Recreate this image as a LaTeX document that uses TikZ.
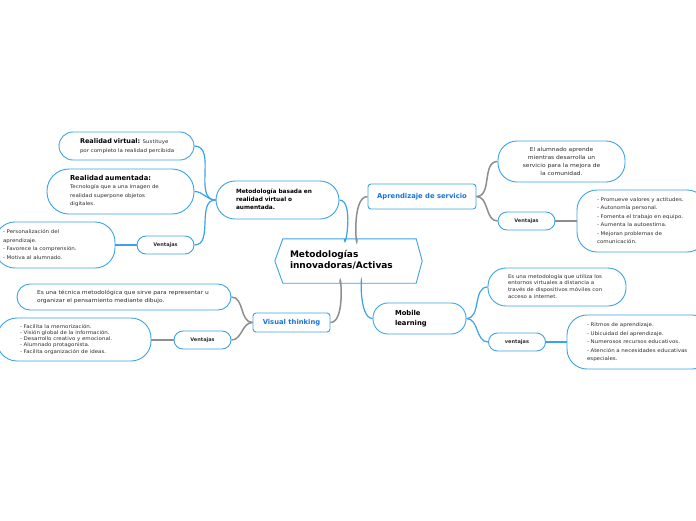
\documentclass[tikz,border=0pt]{standalone}
\usepackage{fontspec}
\setmainfont{DejaVu Sans}[FakeStretch=1.1, BoldFeatures={FakeStretch=1.0}]
\usetikzlibrary{calc}

\definecolor{mapblue}{HTML}{3DA2E8}
\definecolor{titleblue}{HTML}{1B74D6}
\definecolor{mapgrey}{HTML}{8E8E8E}
\definecolor{maptext}{HTML}{2E2E2E}

\newcommand\notelines[1]{\begin{tabular}{@{}l@{}}#1\end{tabular}}

\tikzset{
  bubble/.style={draw=mapblue, line width=0.9pt, fill=white, text=maptext},
  notebox/.style={bubble, align=left, inner ysep=2pt},
  ventajas/.style={bubble, rounded corners=9, minimum width=57, minimum height=18,
    inner sep=0pt, font=\bfseries\fontsize{5}{6}\selectfont},
  topicbox/.style={bubble, rounded corners=3, inner sep=0pt, text=titleblue,
    font=\bfseries\fontsize{6.8}{8}\selectfont},
  bluelink/.style={draw=mapblue, line width=1.2pt},
  greylink/.style={draw=mapgrey, line width=1.5pt},
}

\begin{document}
\begin{tikzpicture}[x=1pt, y=-1pt]
  \useasboundingbox[fill=white] (0,0) rectangle (696,520);

  \node[text=black, align=left, inner xsep=15pt, text width=117, minimum height=44,
    font=\bfseries\fontsize{9}{11}\selectfont] (main) at (348.5,261)
    {\notelines{Metodologías\\innovadoras/Activas}};
  \draw[draw=mapblue, line width=0.9pt] (main.west) -- ([xshift=8pt]main.north west)
    -- ([xshift=-6pt]main.north east) -- (main.east) -- ([xshift=-6pt]main.south east)
    -- ([xshift=8pt]main.south west) -- cycle;

  \node[topicbox, minimum width=108, minimum height=25] (aps) at (422,196.5) {Aprendizaje de servicio};
  \node[notebox, rounded corners=19, minimum width=127, minimum height=41, align=center,
    font=\fontsize{5.4}{7.7}\selectfont] (apsdef) at (561.5,161.5)
    {El alumnado aprende\\mientras desarrolla un\\servicio para la mejora de\\la comunidad.};
  \node[ventajas] (apsven) at (526.5,221) {Ventajas};
  \node[notebox, rounded corners=20, inner xsep=20pt, text width=90, minimum height=62,
    font=\fontsize{5}{8.5}\selectfont] (apslist) at (642,221)
    {\notelines{- Promueve valores y actitudes.\\- Autonomía personal.\\- Fomenta el trabajo en equipo.\\- Aumenta la autoestima.\\- Mejoran problemas de\\comunicación.}};

  \node[notebox, rounded corners=15, inner xsep=22pt, text width=49, minimum height=31,
    text=black, font=\bfseries\fontsize{6.8}{10}\selectfont] (mob) at (419.5,318.5)
    {\notelines{Mobile\\learning}};
  \node[notebox, rounded corners=18, inner xsep=20pt, text width=98, minimum height=38,
    font=\fontsize{5}{6.7}\selectfont] (mobdef) at (557,287)
    {\notelines{Es una metodología que utiliza los\\entornos virtuales a distancia a\\través de dispositivos móviles con\\acceso a internet.}};
  \node[ventajas] (mobven) at (517,342) {ventajas};
  \node[notebox, rounded corners=20, inner xsep=20pt, text width=105, minimum height=54,
    font=\fontsize{5}{8.5}\selectfont] (moblist) at (639.5,342)
    {\notelines{- Ritmos de aprendizaje.\\- Ubicuidad del aprendizaje.\\- Numerosos recursos educativos.\\- Atención a necesidades educativas\\especiales.}};

  \node[notebox, rounded corners=19, inner xsep=20pt, text width=83, minimum height=38,
    text=black, font=\bfseries\fontsize{5.8}{8}\selectfont] (vr) at (277.5,200)
    {\notelines{Metodología basada en\\realidad virtual o\\aumentada.}};
  \node[notebox, rounded corners=14, inner xsep=21pt, text width=93, minimum height=28,
    font=\fontsize{5}{9}\selectfont] (rv) at (126.5,146)
    {\notelines{{\color{black}\bfseries\fontsize{6.5}{9}\selectfont Realidad virtual:} Sustituye\\por completo la realidad percibida}};
  \node[notebox, rounded corners=22, inner xsep=23pt, text width=101, minimum height=45,
    font=\fontsize{5}{8.5}\selectfont] (ra) at (120.5,191.5)
    {\notelines{{\color{black}\bfseries\fontsize{6.8}{8.5}\selectfont Realidad aumentada:}\\Tecnología que a una imagen de\\realidad superpone objetos\\digitales.}};
  \node[ventajas] (vrven) at (165.5,245) {Ventajas};
  \node[notebox, rounded corners=20, inner xsep=8pt, text width=104, minimum height=46,
    font=\fontsize{5}{8.5}\selectfont] (vrlist) at (55,245)
    {\notelines{- Personalización del\\aprendizaje.\\- Favorece la comprensión.\\- Motiva al alumnado.}};

  \node[topicbox, minimum width=77, minimum height=19] (vt) at (291.5,322.5) {Visual thinking};
  \node[notebox, rounded corners=13, inner xsep=20pt, text width=174, minimum height=26,
    font=\fontsize{5.4}{8}\selectfont] (vtdef) at (124,297)
    {\notelines{Es una técnica metodológica que sirve para representar u\\organizar el pensamiento mediante dibujo.}};
  \node[ventajas] (vtven) at (202.5,340) {Ventajas};
  \node[notebox, rounded corners=20, inner xsep=23pt, text width=108, minimum height=43,
    font=\fontsize{5}{6.2}\selectfont] (vtlist) at (74,339.5)
    {\notelines{- Facilita la memorización.\\- Visión global de la información.\\- Desarrollo creativo y emocional.\\- Alumnado protagonista.\\- Facilita organización de ideas.}};

  \draw[bluelink] ([xshift=-4pt]main.north) to[out=-90, in=0] (vr.east);
  \draw[greylink] ([xshift=8.5pt]main.north) to[out=-90, in=180] (aps.west);
  \draw[bluelink] ([xshift=13pt]main.south) to[out=90, in=180] (mob.west);
  \draw[greylink] ([xshift=-8.5pt]main.south) to[out=90, in=0] (vt.east);

  \draw[greylink] (aps.east) to[out=0, in=180] (apsdef.west);
  \draw[greylink] (aps.east) to[out=0, in=180] (apsven.west);
  \draw[greylink] (apsven.east) -- (apslist.west |- apsven.east);

  \draw[bluelink] (mob.east) to[out=0, in=180] (mobdef.west);
  \draw[bluelink] (mob.east) to[out=0, in=180] (mobven.west);
  \draw[bluelink] (mobven.east) -- (moblist.west |- mobven.east);

  \draw[bluelink] (vr.west) to[out=180, in=0] (rv.east);
  \draw[bluelink] (vr.west) to[out=180, in=0] (ra.east);
  \draw[bluelink] (vr.west) to[out=180, in=0] (vrven.east);
  \draw[bluelink] (vrven.west) -- (vrlist.east |- vrven.west);

  \draw[greylink] (vt.west) to[out=180, in=0] (vtdef.east);
  \draw[greylink] (vt.west) to[out=180, in=0] (vtven.east);
  \draw[greylink] (vtven.west) -- (vtlist.east |- vtven.west);
\end{tikzpicture}
\end{document}
